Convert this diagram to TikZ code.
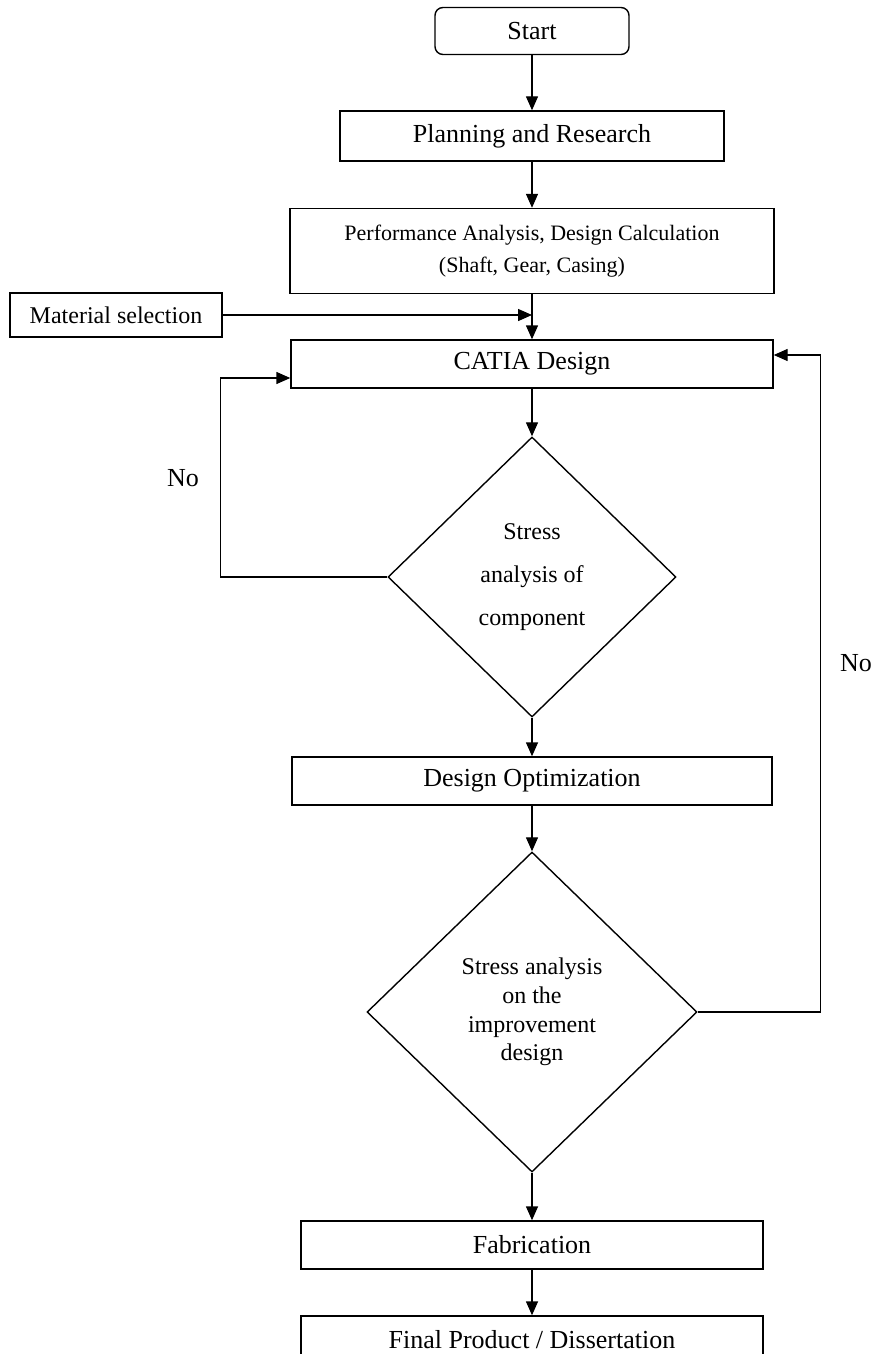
\documentclass[tikz,border=0pt]{standalone}
\usepackage{fontspec}
\setmainfont{Liberation Serif}
\usetikzlibrary{shapes.geometric,arrows.meta}
\tikzset{%
  process/.style={%
    rectangle,%
    draw,%
    inner sep=0pt,%
    minimum height=24pt,%
    font=\fontsize{13}{15.6}\selectfont},
  decision/.style={%
    diamond,%
    draw,%
    inner sep=0pt,%
    align=center,%
    font=\fontsize{12}{14.4}\selectfont},
  flow/.style={%
    -{Triangle[length=7pt,width=6pt]}}
}
\begin{document}
\begin{tikzpicture}[x=0.5pt,y=-0.5pt,line width=0.7pt,
            every node/.style={font=\fontsize{13}{15.6}\selectfont}]
  \clip (0,0) rectangle (875,1354);
  \node [process,rounded corners=4pt,minimum width=97pt,minimum height=23.5pt] (start) at (532,31) {Start};
  \node [process,minimum width=192pt,minimum height=25pt] (plan) at (532,136) {Planning and Research};
  \node [process,minimum width=242pt,minimum height=42.5pt,align=center,
         font=\fontsize{11}{16}\selectfont] (perf) at (532,251)
        {Performance Analysis, Design Calculation\\(Shaft, Gear, Casing)};
  \node [process,minimum width=106pt,minimum height=22pt,
         font=\fontsize{12}{14.4}\selectfont] (mat) at (116,315) {Material selection};
  \node [process,minimum width=241pt] (catia) at (532,364) {CATIA Design};
  \node [decision,minimum width=144pt,minimum height=140pt] (check1) at (532,577)
        {Stress\\[7pt]analysis of\\[7pt]component};
  \node [process,minimum width=240pt] (opt) at (532,781) {Design Optimization};
  \node [decision,minimum width=165pt,minimum height=160pt] (check2) at (532,1012)
        {Stress analysis\\on the\\improvement\\design};
  \node [process,minimum width=231pt] (fab) at (532,1245) {Fabrication};
  \node [process,minimum width=231pt] (final) at (532,1340) {Final Product / Dissertation};
  % loop labels
  \node (nol) at (183,478) {No};
  \node (nor) at (856,663) {No};
  \coordinate (matin) at (532,315);
  % main flow
  \draw [flow] (start) -- (plan);
  \draw [flow] (plan) -- (perf);
  \draw [flow] (perf) -- (catia);
  \draw [flow] (mat) -- (matin);
  \draw [flow] (catia) -- (check1);
  \draw [flow] (check1) -- (opt);
  \draw [flow] (opt) -- (check2);
  \draw [flow] (check2) -- (fab);
  \draw [flow] (fab) -- (final);
  % back loops
  \draw [flow] (check1.west) -- ++(-167,0) |- ([yshift=-7pt]catia.west);
  \draw [flow] (check2.east) -- ++(123,0) |- ([yshift=4.5pt]catia.east);
\end{tikzpicture}
\end{document}
